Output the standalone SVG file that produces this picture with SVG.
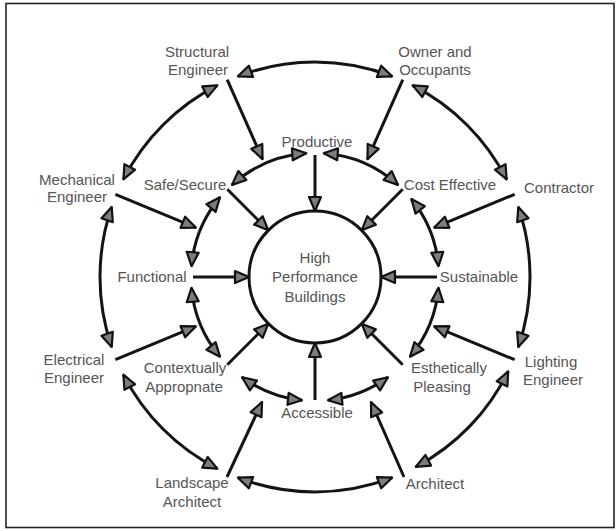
<svg xmlns="http://www.w3.org/2000/svg" width="616" height="531" viewBox="0 0 616 531">
<defs>
<marker id="ah" viewBox="0 0 18 16" refX="16" refY="8" markerWidth="18" markerHeight="16" markerUnits="userSpaceOnUse" orient="auto-start-reverse">
<path d="M2,2 L16,8 L2,14 Z" fill="#7d7d7d" stroke="#111" stroke-width="2.2" stroke-linejoin="round"/>
</marker>
<style>
.c{fill:none;stroke:#141414;stroke-width:3;marker-end:url(#ah)}
.d{marker-start:url(#ah)}
text{font-family:"Liberation Sans",Arial,sans-serif;font-size:15px;fill:#555;text-anchor:middle}
</style>
</defs>
<rect x="6" y="3.5" width="608" height="524" fill="#fff" stroke="#222" stroke-width="1.6"/>
<circle cx="315" cy="277" r="66" fill="none" stroke="#141414" stroke-width="3"/>
<g id="connectors">
<path class="c d" d="M237.9,76.3 A215,215 0 0 1 392.1,76.3"/>
<path class="c d" d="M412.6,85.4 A215,215 0 0 1 506.6,179.4"/>
<path class="c d" d="M518.3,207 A215,215 0 0 1 518.3,347"/>
<path class="c d" d="M508.2,371.3 A215,215 0 0 1 415.9,466.8"/>
<path class="c d" d="M392.1,477.7 A215,215 0 0 1 237.9,477.7"/>
<path class="c d" d="M217.4,468.6 A215,215 0 0 1 123.4,374.6"/>
<path class="c d" d="M111.7,347 A215,215 0 0 1 111.7,207"/>
<path class="c d" d="M123.4,179.4 A215,215 0 0 1 217.4,85.4"/>
<path class="c d" d="M323.7,153.3 A124,124 0 0 1 398,184.9"/>
<path class="c d" d="M411.4,199 A124,124 0 0 1 438.5,266.2"/>
<path class="c d" d="M438.5,287.8 A124,124 0 0 1 410,356.7"/>
<path class="c d" d="M387.9,377.3 A124,124 0 0 1 328,400.3"/>
<path class="c d" d="M302,400.3 A124,124 0 0 1 242.1,377.3"/>
<path class="c d" d="M220,356.7 A124,124 0 0 1 191.5,287.8"/>
<path class="c d" d="M191.5,266.2 A124,124 0 0 1 220,197.3"/>
<path class="c d" d="M232,184.9 A124,124 0 0 1 306.3,153.3"/>
<path class="c" d="M315,155 L315,211"/>
<path class="c" d="M402.7,189.3 L361.7,230.3"/>
<path class="c" d="M437,277 L381,277"/>
<path class="c" d="M402.7,364.7 L361.7,323.7"/>
<path class="c" d="M315,400 L315,343"/>
<path class="c" d="M227.3,364.7 L268.3,323.7"/>
<path class="c" d="M193,277 L249,277"/>
<path class="c" d="M227.3,189.3 L268.3,230.3"/>
<path class="c" d="M227.2,79.7 L262.5,159.2"/>
<path class="c" d="M402.8,79.7 L367.5,159.2"/>
<path class="c" d="M514.6,194.3 L434.2,227.6"/>
<path class="c" d="M514.6,359.7 L434.2,326.4"/>
<path class="c" d="M404,477 L371,402"/>
<path class="c" d="M227,477 L262,402"/>
<path class="c" d="M115.4,359.7 L195.8,326.4"/>
<path class="c" d="M115.4,194.3 L195.8,227.6"/>
</g>
<g id="center"><text x="315" y="263">High</text><text x="315" y="282">Performance</text><text x="315" y="302">Buildings</text></g>
<g id="productive"><text x="317" y="147">Productive</text></g>
<g id="cost-effective"><text x="450" y="190">Cost Effective</text></g>
<g id="sustainable"><text x="479" y="282">Sustainable</text></g>
<g id="esthetically-pleasing"><text x="449" y="373">Esthetically</text><text x="442" y="392">Pleasing</text></g>
<g id="accessible"><text x="317" y="418">Accessible</text></g>
<g id="contextually-appropriate"><text x="185" y="373">Contextually</text><text x="184" y="392">Appropnate</text></g>
<g id="functional"><text x="152" y="282">Functional</text></g>
<g id="safe-secure"><text x="185" y="190">Safe/Secure</text></g>
<g id="structural-engineer"><text x="197" y="57">Structural</text><text x="198" y="75">Engineer</text></g>
<g id="owner-occupants"><text x="435" y="57">Owner and</text><text x="435" y="75">Occupants</text></g>
<g id="contractor"><text x="559" y="193">Contractor</text></g>
<g id="lighting-engineer"><text x="551" y="367">Lighting</text><text x="553" y="385">Engineer</text></g>
<g id="architect"><text x="435" y="489">Architect</text></g>
<g id="landscape-architect"><text x="192" y="488">Landscape</text><text x="192" y="507">Architect</text></g>
<g id="electrical-engineer"><text x="74" y="365">Electrical</text><text x="74" y="383">Engineer</text></g>
<g id="mechanical-engineer"><text x="77" y="185">Mechanical</text><text x="77" y="202">Engineer</text></g>
</svg>
